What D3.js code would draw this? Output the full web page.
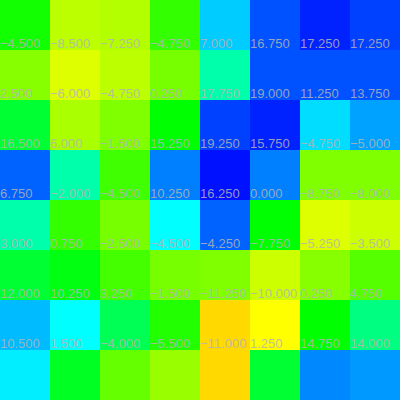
<!DOCTYPE html>
<html>
<head>
<meta charset="utf-8">
<script src="https://cdn.jsdelivr.net/npm/d3@7"></script>
<style>
  html, body { margin: 0; padding: 0; background: #fff; }
  svg { display: block; }
</style>
</head>
<body>
<svg id="chart" width="400" height="400"></svg>
<script>
// Column and row indices of the 8x8 grid
const columns = [0, 1, 2, 3, 4, 5, 6, 7];
const rows = [0, 1, 2, 3, 4, 5, 6, 7];

// Colour values (hue-like intensity) per row
const colorRow0 = [116, 76, 78, 108, 192, 221, 232, 225];
const colorRow1 = [88, 68, 76, 92, 160, 221, 221, 221];
const colorRow2 = [132, 80, 90, 120, 225, 232, 188, 202];
const colorRow3 = [217, 160, 105, 210, 236, 210, 90, 90];
const colorRow4 = [160, 108, 92, 180, 217, 120, 68, 72];
const colorRow5 = [132, 124, 104, 92, 90, 72, 88, 100];
const colorRow6 = [196, 180, 140, 112, 51, 60, 120, 150];
const colorRow7 = [184, 128, 96, 84, 51, 132, 208, 204];
const colorValues = [colorRow0, colorRow1, colorRow2, colorRow3, colorRow4, colorRow5, colorRow6, colorRow7];

// Printed labels per row (bottom row has none)
const labelRow0 = [-4.5, -8.5, -7.25, -4.75, 7.0, 16.75, 17.25, 17.25];
const labelRow1 = [2.5, -6.0, -4.75, 0.25, 17.75, 19.0, 11.25, 13.75];
const labelRow2 = [16.5, 6.0, -1.5, 15.25, 19.25, 15.75, -4.75, -5.0];
const labelRow3 = [6.75, -2.0, -4.5, 10.25, 16.25, 0.0, -8.75, -8.0];
const labelRow4 = [3.0, 0.75, -2.5, -4.5, -4.25, -7.75, -5.25, -3.5];
const labelRow5 = [12.0, 10.25, 3.25, -1.5, -11.25, -10.0, 0.25, 4.75];
const labelRow6 = [10.5, 1.5, -4.0, -5.5, -11.0, 1.25, 14.75, 14.0];
const labelValues = [labelRow0, labelRow1, labelRow2, labelRow3, labelRow4, labelRow5, labelRow6];

const width = 400, height = 400;
const svg = d3.select("#chart");

const x = d3.scaleBand().domain(columns).range([0, width]);
const y = d3.scaleBand().domain(rows).range([0, height]);
const hue = d3.scaleLinear().domain([0, 360]).range([0, 360]);
const color = v => d3.hsl(hue(v), 1, 0.5).formatHex();

const cells = [];
colorValues.forEach((row, r) => row.forEach((v, c) => cells.push({ r, c, v })));

svg.append("g").selectAll("rect")
  .data(cells)
  .join("rect")
  .attr("x", d => x(d.c))
  .attr("y", d => y(d.r))
  .attr("width", x.bandwidth())
  .attr("height", y.bandwidth())
  .attr("fill", d => color(d.v));

const labels = [];
labelValues.forEach((row, r) => row.forEach((v, c) => labels.push({ r, c, v })));
const fmt = d3.format(" .3f");

svg.append("g").selectAll("text")
  .data(labels)
  .join("text")
  .attr("x", d => x(d.c))
  .attr("y", d => y(d.r) + y.bandwidth() - 2)
  .attr("text-anchor", "start")
  .attr("font-family", "Liberation Sans, Arial, sans-serif")
  .attr("font-size", 13)
  .attr("fill", "#b4b4b4")
  .attr("fill-opacity", 0.85)
  .text(d => fmt(d.v));
</script>
</body>
</html>
